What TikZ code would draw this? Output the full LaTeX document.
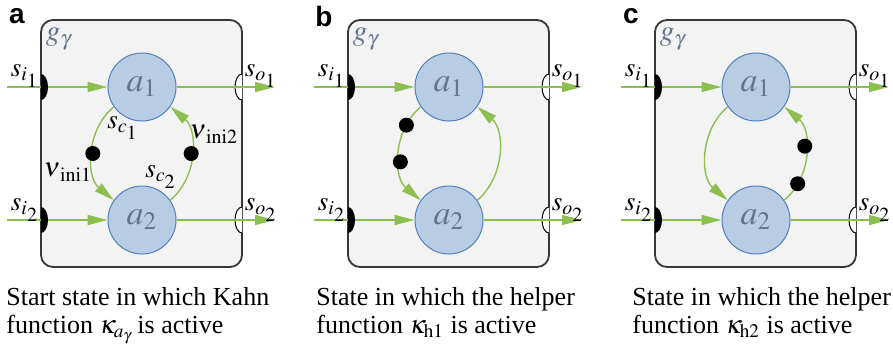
\documentclass[tikz,border=0pt]{standalone}
\usepackage{amsmath}
\usepackage{mathptmx}
\usepackage{fontspec}
\setmainfont{Liberation Serif}
\newfontfamily\panelfont{Liberation Sans}
\usetikzlibrary{arrows.meta}
\definecolor{flow_c}{RGB}{141,190,80}
\definecolor{actor_c}{RGB}{184,204,228}
\definecolor{rim_c}{RGB}{79,129,189}
\definecolor{box_c}{RGB}{243,243,243}
\definecolor{frame_c}{RGB}{55,55,55}
\definecolor{label_c}{RGB}{100,114,142}

\begin{document}
\begin{tikzpicture}[x=0.5pt, y=0.5pt,
  every node/.style={font=\fontsize{13.5}{15}\selectfont},
  gbox/.style={draw=frame_c, fill=box_c, line width=0.9pt, rounded corners=6pt},
  actor/.style={circle, draw=rim_c, fill=actor_c, line width=0.5pt,
                minimum size=34pt, inner sep=0pt, text=label_c,
                font=\fontsize{17}{17}\selectfont},
  ch/.style={flow_c, line width=0.7pt, -{Triangle[length=10pt,width=5pt]}},
  tok/.style={circle, fill=black, minimum size=7.5pt, inner sep=0pt},
  pl/.style={font=\panelfont\bfseries\fontsize{14}{14}\selectfont},
  captext/.style={anchor=north west, align=left, inner sep=0pt,
              font=\fontsize{13}{14}\selectfont},
]
\useasboundingbox (0,0) rectangle (893,-345);

% common frame of the three states
\foreach \p/\dx in {a/0, b/307, c/614} {
  \begin{scope}[shift={(\dx,0)}]
    \draw[gbox] (41,-20) rectangle (242,-267);
    \node[pl] (lbl-\p) at (17,-16) {\p};
    \node[text=label_c, font=\fontsize{14.5}{15}\selectfont] (g-\p) at (59,-39)
      {$g_{\boldsymbol{\gamma}}$};
    \node[actor] (a1-\p) at (142,-87)  {$a_1$};
    \node[actor] (a2-\p) at (142,-220) {$a_2$};
    \coordinate (in1-\p)  at (7,-87);
    \coordinate (in2-\p)  at (7,-220);
    \coordinate (out1-\p) at (275,-87);
    \coordinate (out2-\p) at (275,-220);
    \filldraw[fill=white, line width=0.5pt] (242,-74)
      arc[start angle=90, end angle=270, x radius=3.5pt, y radius=6.5pt];
    \filldraw[fill=white, line width=0.5pt] (242,-207)
      arc[start angle=90, end angle=270, x radius=3.5pt, y radius=6.5pt];
    \draw[ch] (in1-\p) -- (a1-\p);
    \draw[ch] (in2-\p) -- (a2-\p);
    \draw[ch] (a1-\p) -- (out1-\p);
    \draw[ch] (a2-\p) -- (out2-\p);
    \fill (41,-74) arc[start angle=90, end angle=-90, x radius=3.5pt, y radius=6.5pt] -- cycle;
    \fill (41,-207) arc[start angle=90, end angle=-90, x radius=3.5pt, y radius=6.5pt] -- cycle;
    \node (si1-\p) at (25,-76)  {$s_{i_{\scriptstyle 1}}$};
    \node (si2-\p) at (25,-210) {$s_{i_{\scriptstyle 2}}$};
    \node (so1-\p) at (261,-76) {$s_{o_{\scriptstyle 1}}$};
    \node (so2-\p) at (261,-210) {$s_{o_{\scriptstyle 2}}$};
  \end{scope}
}

% a: start state
\draw[ch] (a1-a.215) to[bend right=50] node[tok] (t1-a) {} (a2-a.145);
\draw[ch] (a2-a.35) to[bend right=50] node[tok] (t2-a) {} (a1-a.325);
\node (sc1-a) at (123,-128) {$s_{c_{\scriptstyle 1}}$};
\node (sc2-a) at (161,-177) {$s_{c_{\scriptstyle 2}}$};
\node (vi1-a) at (68,-172)  {$\nu_{\,\mathrm{ini1}}$};
\node (vi2-a) at (214,-134) {$\nu_{\,\mathrm{ini2}}$};
% b: helper h1
\draw[ch] (a1-b.215) to[bend right=50] node[tok, pos=0.22] (t1-b) {}
  node[tok, pos=0.58] (t2-b) {} (a2-b.145);
\draw[ch] (a2-b.35) to[bend right=50] (a1-b.325);
% c: helper h2
\draw[ch] (a1-c.215) to[bend right=50] (a2-c.145);
\draw[ch] (a2-c.35) to[bend right=50] node[tok, pos=0.2] (t1-c) {}
  node[tok, pos=0.57] (t2-c) {} (a1-c.325);

\node[captext] (cap-a) at (6,-287)
  {Start state in which Kahn\\function $\kappa_{a_\gamma}$\,is active};
\node[captext] (cap-b) at (316,-287)
  {State in which the helper\\function $\kappa_{\mathrm{h1}}$ is active};
\node[captext] (cap-c) at (632,-287)
  {State in which the helper\\function $\kappa_{\mathrm{h2}}$ is active};
\end{tikzpicture}
\end{document}
